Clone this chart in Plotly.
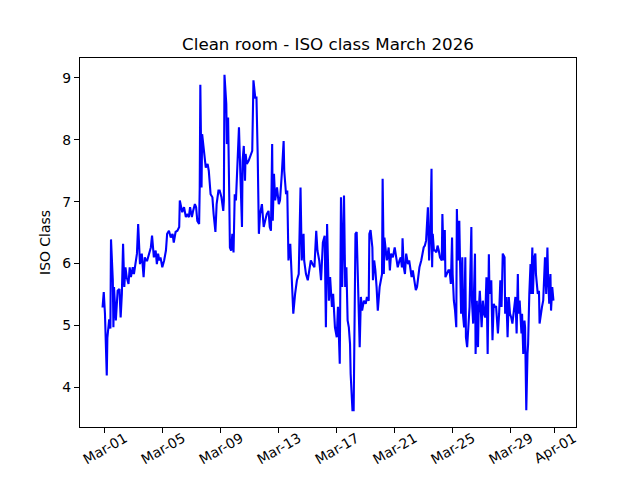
import datetime as dt
import plotly.graph_objects as go

# hours since 2026-03-01 00:00
hours = [
    -4, -2, 0, 3, 4, 7, 9, 10, 13, 14, 15, 18, 21, 24, 26, 28, 30, 32, 34, 36,
    39, 41, 43, 46, 48, 50, 53, 55, 57, 58, 61, 63, 64, 66, 68, 70, 73, 76, 78, 80,
    81, 84, 86, 88, 90, 92, 95, 98, 101, 103, 106, 109, 112, 114, 117, 120, 123, 124, 127, 128,
    131, 134, 136, 139, 141, 144, 146, 149, 151, 153, 156, 157, 158, 160, 161, 163, 165, 167, 170, 172,
    175, 178, 180, 183, 185, 188, 190, 193, 196, 197, 198, 201, 202, 204, 206, 207, 209, 211, 213, 215,
    217, 220, 222, 224, 227, 228, 230, 232, 233, 235, 238,
    244, 246, 249, 251, 253, 255, 257, 260, 263, 266, 268, 271, 273, 275, 277, 278, 280, 282, 285, 288,
    290, 293, 296, 297, 300, 302, 304, 307, 308, 311, 312, 315, 318, 321, 322, 324, 326, 329, 330, 333,
    336, 339, 341, 344, 347, 350, 352, 355, 358, 361, 364, 366, 368, 371, 373, 376, 378, 381, 384, 386,
    389, 391, 393, 396, 398, 400, 402, 404, 406, 407, 410, 412, 413, 415, 417, 418, 420, 422, 424, 426,
    429, 432, 434, 437, 438, 440, 443, 444, 446, 448, 450, 452, 455, 457, 459, 460, 462, 463, 465, 467,
    470, 472, 474, 477, 480, 483, 485, 488,
    490, 492, 493, 495, 497, 499, 502, 504, 506, 508, 510, 513, 515, 517, 519, 521, 524, 526, 528, 530,
    532, 535, 536, 537, 539, 541, 542, 543, 545, 547, 549, 551, 553, 555, 558, 559, 561, 563, 564, 566,
    569, 571, 573, 575, 576, 578, 580, 582, 583, 585, 587, 588, 590, 592, 593, 595, 597, 598, 600, 602,
    604, 607, 608, 610, 613, 614, 616, 618, 619, 621, 624, 626, 628, 630, 632, 634, 636, 637, 640, 642,
    644, 646, 648, 651, 653, 655, 657, 659, 662, 663, 665, 667, 669, 671, 673, 675, 678, 680, 682, 684,
    685, 687, 690, 691, 693, 695, 696, 698, 700, 701, 703, 705, 706, 708, 709, 711, 713, 714, 717, 719,
    720, 722, 724, 726, 728, 729, 731, 733, 734, 736, 738, 739, 741, 743,
]

iso_class = [
    5.29, 5.54, 5.19, 4.19, 4.80, 5.10, 4.95, 6.39, 5.73, 4.97, 5.62, 5.08, 5.56, 5.59, 5.13, 5.51, 6.32, 5.62, 5.94, 5.78,
    5.67, 5.94, 5.78, 5.94, 5.83, 5.99, 6.16, 6.64, 6.21, 5.99, 6.16, 5.94, 5.78, 6.10, 6.05, 6.05, 6.16, 6.26, 6.45, 6.26,
    6.10, 6.21, 5.99, 6.16, 6.05, 6.10, 5.94, 6.05, 6.21, 6.48, 6.53, 6.42, 6.48, 6.34, 6.51, 6.53, 6.59, 7.02, 6.91, 6.83,
    6.91, 6.75, 6.80, 6.75, 6.91, 6.75, 6.85, 6.96, 6.91, 6.69, 6.64, 7.23, 8.89, 7.23, 8.09, 7.88, 7.72, 7.55, 7.61, 7.50,
    7.12, 7.07, 6.80, 6.51, 6.96, 7.18, 7.18, 7.07, 6.85, 7.02, 9.05, 8.58, 7.93, 8.36, 7.02, 6.26, 6.21, 6.48, 6.18, 7.12,
    7.02, 7.66, 8.20, 7.55, 6.59, 7.66, 7.90, 7.34, 7.77, 7.61, 7.66,
    7.82, 8.96, 8.68, 8.68, 7.77, 6.48, 6.80, 6.96, 6.59, 6.69, 6.80, 6.85, 6.59, 6.53, 7.93, 6.69, 7.45, 7.02, 7.23, 6.96,
    7.02, 7.45, 7.98, 7.50, 7.12, 7.18, 6.05, 6.32, 6.05, 5.51, 5.19, 5.51, 5.73, 5.83, 6.26, 7.23, 6.05, 6.48, 6.05, 5.83,
    5.73, 5.94, 6.05, 5.99, 5.94, 6.53, 6.21, 6.05, 5.73, 6.34, 6.45, 4.97, 6.64, 5.40, 5.78, 5.30, 5.51, 4.97, 4.81, 5.30,
    4.38, 7.07, 5.62, 7.10, 5.62, 5.94, 5.08, 4.97, 4.70, 4.22, 3.63, 3.63, 5.08, 6.48, 6.51, 6.16, 5.08, 4.65, 5.46, 5.24,
    5.40, 5.35, 5.46, 5.40, 6.48, 6.54, 6.26, 5.73, 6.05, 5.89, 5.62, 5.24, 5.62, 5.73, 5.83, 7.37, 5.83, 6.42, 6.16, 6.05,
    6.26, 5.89, 6.16, 6.10, 6.26, 6.10, 5.94, 6.05,
    6.10, 5.94, 6.41, 5.94, 5.83, 6.16, 5.99, 6.05, 5.94, 5.78, 5.89, 5.73, 5.57, 5.62, 5.78, 5.94, 6.05, 6.16, 6.26, 6.29,
    6.37, 6.91, 6.37, 6.05, 6.48, 7.53, 5.94, 6.48, 6.21, 6.21, 6.18, 6.29, 6.21, 6.10, 6.05, 6.80, 6.05, 6.54, 5.78, 5.83,
    5.89, 5.89, 5.67, 6.42, 5.83, 5.40, 5.24, 4.97, 6.88, 6.05, 6.69, 6.16, 5.19, 6.10, 5.19, 4.97, 6.10, 4.81, 4.65, 4.97,
    5.30, 6.59, 5.40, 5.03, 6.16, 4.54, 5.40, 4.65, 5.19, 5.56, 4.97, 5.40, 5.19, 5.13, 5.78, 4.54, 6.15, 5.51, 5.73, 4.76,
    5.35, 5.30, 5.30, 4.87, 5.19, 5.73, 5.30, 6.16, 6.10, 5.19, 5.46, 4.81, 5.46, 5.19, 5.13, 5.03, 5.24, 5.46, 4.87, 5.83,
    5.19, 5.40, 4.87, 5.19, 4.54, 5.08, 4.97, 3.63, 4.54, 4.70, 5.51, 5.99, 5.51, 6.26, 5.51, 6.10, 6.16, 5.83, 5.51, 5.56,
    5.03, 5.19, 5.30, 5.40, 6.10, 6.10, 5.51, 6.26, 5.83, 5.35, 5.83, 5.24, 5.62, 5.40,
]

tick_dates = ["2026-03-01", "2026-03-05", "2026-03-09", "2026-03-13", "2026-03-17",
              "2026-03-21", "2026-03-25", "2026-03-29", "2026-04-01"]
y_ticks = [4, 5, 6, 7, 8, 9]

base = dt.datetime(2026, 3, 1)
times = [base + dt.timedelta(hours=h) for h in hours]

# matplotlib-like 5% margins
span_h = hours[-1] - hours[0]
x0 = base + dt.timedelta(hours=hours[0] - 0.05 * span_h)
x1 = base + dt.timedelta(hours=hours[-1] + 0.05 * span_h)
ymin, ymax = min(iso_class), max(iso_class)
yspan = ymax - ymin

FONT = "DejaVu Sans"

fig = go.Figure()
fig.add_trace(go.Scatter(x=times, y=iso_class, mode="lines",
                         line=dict(color="#0000ff", width=2.1), showlegend=False))

# the page body adds an 8px offset; margins compensate for it
fig.update_layout(
    width=640, height=480,
    margin=dict(l=72, r=72, t=50, b=61, autoexpand=False),
    paper_bgcolor="white", plot_bgcolor="white",
    font=dict(family=FONT, size=13.9, color="black"),
    title=dict(text="Clean room - ISO class March 2026", x=0.5, xref="paper",
               y=1 - 36 / 480, yref="container", xanchor="center", yanchor="middle",
               font=dict(family=FONT, size=16.7, color="black")),
)
fig.update_xaxes(
    type="date", range=[x0, x1],
    tickvals=tick_dates, tickformat="%b-%d", tickangle=-30,
    ticklabelshift=20, ticklabelstandoff=-8,
    ticks="outside", ticklen=5, tickwidth=1.1, tickcolor="black",
    showline=True, linecolor="black", linewidth=1.1, mirror=True,
    showgrid=False, zeroline=False,
    tickfont=dict(family=FONT, size=13.9, color="black"),
)
fig.update_yaxes(
    range=[ymin - 0.05 * yspan, ymax + 0.05 * yspan],
    tickvals=y_ticks,
    ticks="outside", ticklen=5, tickwidth=1.1, tickcolor="black",
    showline=True, linecolor="black", linewidth=1.1, mirror=True,
    showgrid=False, zeroline=False,
    tickfont=dict(family=FONT, size=13.9, color="black"),
    title=dict(text="ISO Class", standoff=8, font=dict(family=FONT, size=13.9, color="black")),
)

fig.write_html("out.html")
